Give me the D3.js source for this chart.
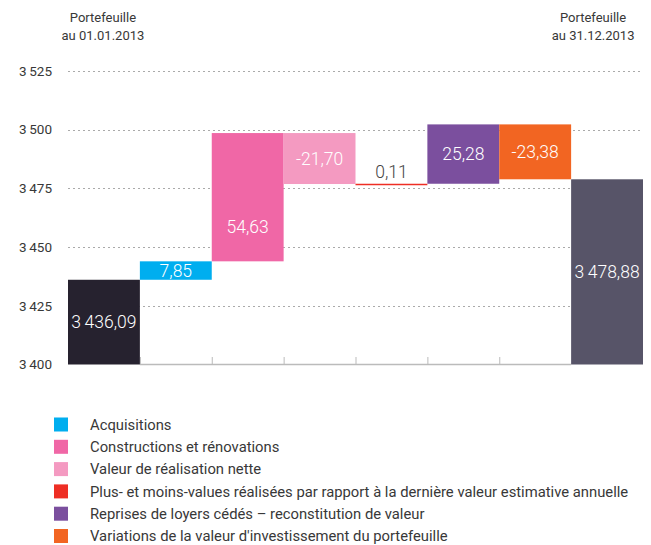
<!DOCTYPE html>
<html>
<head>
<meta charset="utf-8">
<script src="https://cdn.jsdelivr.net/npm/d3@7"></script>
<style>
    body { margin: 0; background: #fff; }
    svg { font-family: Roboto, "Noto Sans", sans-serif; }
</style>
</head>
<body>
<svg id="chart" width="651" height="545"></svg>
<script>
// data
const steps = ["start", "acq", "constr", "realis", "plusmoins", "reprises", "variations", "end"]
const stepKinds = ["total", "delta", "delta", "delta", "delta", "delta", "delta", "total"]
const stepValues = [3436.09, 7.85, 54.63, -21.70, 0.11, 25.28, -23.38, 3478.88]
const stepColors = ["#26222f", "#00aeef", "#f067a6", "#f49ac1", "#ee2e24", "#7b4f9e", "#f26522", "#575468"]
const headerLabels = [["Portefeuille", "au 01.01.2013"], ["Portefeuille", "au 31.12.2013"]]
const yTicks = [3400, 3425, 3450, 3475, 3500, 3525]
const legendLabels = [
    "Acquisitions",
    "Constructions et rénovations",
    "Valeur de réalisation nette",
    "Plus- et moins-values réalisées par rapport à la dernière valeur estimative annuelle",
    "Reprises de loyers cédés – reconstitution de valeur",
    "Variations de la valeur d'investissement du portefeuille"
]
const legendColors = ["#00aeef", "#f067a6", "#f49ac1", "#ee2e24", "#7b4f9e", "#f26522"]

const svg = d3.select("#chart")
const TEXT = "#383838"

const fr = d3.formatLocale({decimal: ",", thousands: "\u2009", grouping: [3], currency: ["", ""]})
const fmtTick = fr.format(",d")
const fmtValue = fr.format(",.2f")

const x = d3.scaleBand().domain(steps).range([68, 643]).padding(0)
const y = d3.scaleLinear().domain([3400, 3525]).range([364.5, 71])

// waterfall: start / end of each step
let running = 0
const bars = steps.map((key, i) => {
    let from, to
    if (stepKinds[i] === "total") {
        from = 3400
        to = stepValues[i]
        running = stepValues[i]
    } else {
        from = running
        to = running + stepValues[i]
        running = to
    }
    return {key, value: stepValues[i], from, to, color: stepColors[i], kind: stepKinds[i]}
})

// grid
svg.append("g")
    .selectAll("line")
    .data(yTicks.filter(t => t > 3400))
    .join("line")
    .attr("x1", 68).attr("x2", 643)
    .attr("y1", d => Math.round(y(d)) + 0.5).attr("y2", d => Math.round(y(d)) + 0.5)
    .attr("stroke", "#aaa")
    .attr("stroke-dasharray", "2,3")

// y tick labels
svg.append("g")
    .selectAll("text")
    .data(yTicks)
    .join("text")
    .attr("x", 52)
    .attr("y", d => y(d))
    .attr("dy", "0.35em")
    .attr("text-anchor", "end")
    .attr("font-size", 13.5)
    .attr("fill", TEXT)
    .text(d => fmtTick(d))

// bottom axis between the two totals
const axisG = svg.append("g")
axisG.append("line")
    .attr("x1", x("acq")).attr("x2", x("end"))
    .attr("y1", 364.5).attr("y2", 364.5)
    .attr("stroke", "#bbb").attr("stroke-width", 1.5)
axisG.selectAll("line.tick")
    .data(steps.slice(1, 7))
    .join("line")
    .classed("tick", true)
    .attr("x1", d => x(d) + 0.5).attr("x2", d => x(d) + 0.5)
    .attr("y1", 357).attr("y2", 365)
    .attr("stroke", "#bbb")

// bars
svg.append("g")
    .selectAll("rect")
    .data(bars)
    .join("rect")
    .attr("x", d => x(d.key))
    .attr("width", x.bandwidth())
    .attr("y", d => y(Math.max(d.from, d.to)))
    .attr("height", d => Math.max(1.5, Math.abs(y(d.from) - y(d.to))))
    .attr("fill", d => d.color)

// value labels
const labelShift = {constr: 30}
const isThin = d => Math.abs(y(d.from) - y(d.to)) < 5
svg.append("g")
    .selectAll("text")
    .data(bars)
    .join("text")
    .attr("x", d => x(d.key) + x.bandwidth() / 2)
    .attr("y", d => {
        if (isThin(d)) return y(d.to) - 12
        return (y(d.from) + y(d.to)) / 2 + (labelShift[d.key] || 0)
    })
    .attr("dy", "0.35em")
    .attr("text-anchor", "middle")
    .attr("font-size", 17.5)
    .attr("font-weight", 300)
    .attr("fill", d => isThin(d) ? "#444" : "#fff")
    .text(d => fmtValue(d.value).replace(/^−/, "-"))

// header labels above the totals
const headerKeys = ["start", "end"]
headerLabels.forEach((lines, i) => {
    const t = svg.append("text")
        .attr("x", x(headerKeys[i]) + x.bandwidth() / 2 + (i === 0 ? -1 : -14))
        .attr("y", 22)
        .attr("text-anchor", "middle")
        .attr("font-size", 13)
        .attr("fill", TEXT)
    lines.forEach((l, j) => t.append("tspan")
        .attr("x", t.attr("x"))
        .attr("dy", j === 0 ? 0 : 18)
        .text(l))
})

// legend
const legend = svg.append("g")
    .selectAll("g")
    .data(legendLabels)
    .join("g")
    .attr("transform", (d, i) => `translate(54, ${417.5 + i * 22.3})`)
legend.append("rect")
    .attr("width", 14).attr("height", 14)
    .attr("fill", (d, i) => legendColors[i])
legend.append("text")
    .attr("x", 36).attr("y", 7)
    .attr("dy", "0.35em")
    .attr("font-size", 14.8)
    .attr("fill", TEXT)
    .text(d => d)
</script>
</body>
</html>
